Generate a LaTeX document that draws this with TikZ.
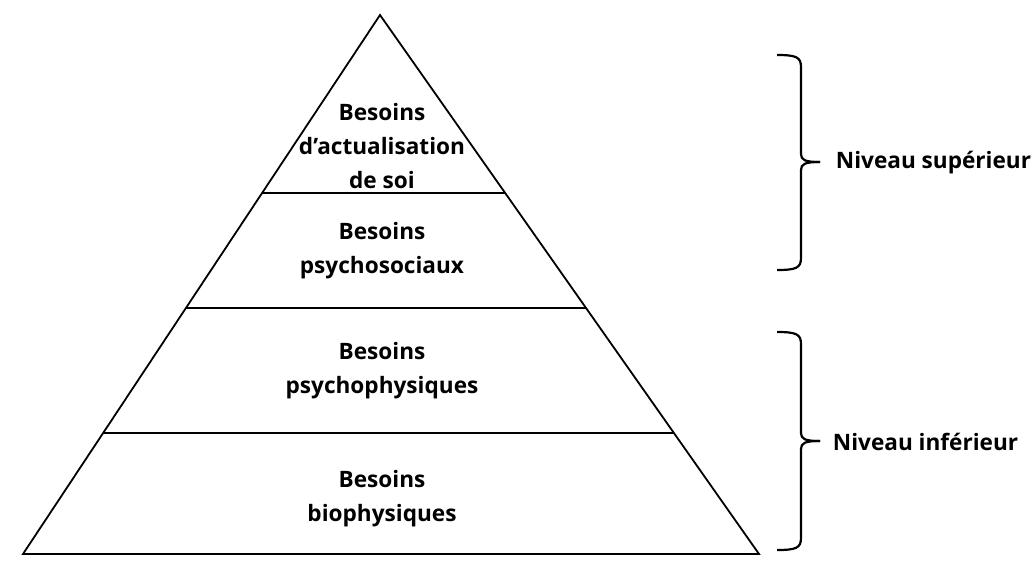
\documentclass[tikz,border=0pt]{standalone}
\usepackage{fontspec}
\setmainfont{Open Sans}
\usetikzlibrary{calc}
\tikzset{
  besoin/.style={font=\bfseries\fontsize{22.6}{34}\selectfont, align=center},
  niveau/.style={font=\bfseries\fontsize{22.6}{26}\selectfont, anchor=west, inner sep=0pt},
  accolade/.style={line width=2.2pt}
}
\begin{document}
\begin{tikzpicture}[x=1pt,y=-1pt,line width=1.8pt]
\useasboundingbox (0,0) rectangle (1034,568);
\coordinate (sommet) at (380,15);
\coordinate (bg) at (23,554);
\coordinate (bd) at (759,554);
\draw (sommet) -- (bd) -- (bg) -- cycle;
\foreach \t in {0.330, 0.544, 0.776}
  \draw ($(sommet)!\t!(bg)$) -- ($(sommet)!\t!(bd)$);
\node[besoin] (soi) at (382,146) {Besoins\\d’actualisation\\de soi};
\node[besoin] (psychosoc) at (382,251) {Besoins\\psychosociaux};
\node[besoin] (psychophys) at (382,371) {Besoins\\psychophysiques};
\node[besoin] (biophys) at (382,499) {Besoins\\biophysiques};
% accolades
\foreach \h/\m/\b in {55/162/270, 332/441/550}{
  \draw[accolade] (777,\h) .. controls (796,\h) and (801,\h+2) .. (801,\h+12)
    -- (801,\m-8) .. controls (801,\m-2) and (805,\m) .. (820,\m);
  \draw[accolade] (777,\b) .. controls (796,\b) and (801,\b-2) .. (801,\b-12)
    -- (801,\m+8) .. controls (801,\m+2) and (805,\m) .. (820,\m);}
\node[niveau] (sup) at (835,163) {Niveau supérieur};
\node[niveau] (inf) at (832,442) {Niveau inférieur};
\end{tikzpicture}
\end{document}
